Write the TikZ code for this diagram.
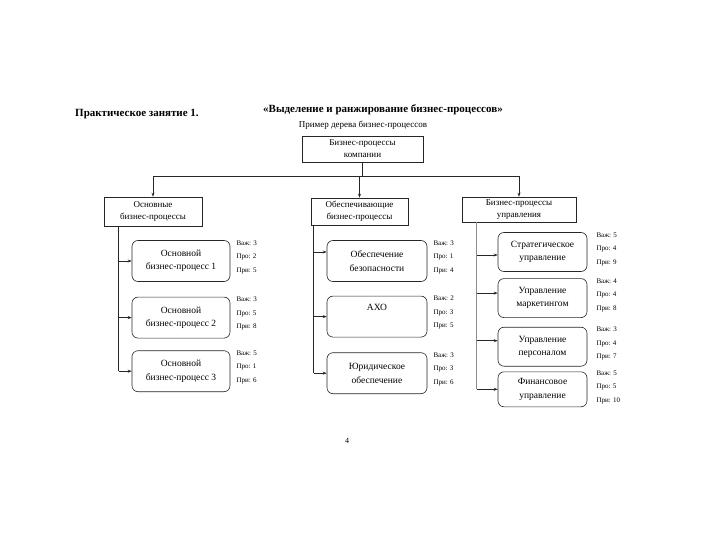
\documentclass[tikz,border=0pt]{standalone}
\usepackage{fontspec}
\setmainfont{Liberation Serif}
\usetikzlibrary{arrows.meta, positioning, calc}

\begin{document}
\begin{tikzpicture}[x=1pt, y=-1pt,
    hdr/.style={rectangle, draw=black!85, line width=0.6pt, inner sep=0pt, align=center, font=\fontsize{9}{12}\selectfont},
    proc/.style={rectangle, rounded corners=6pt, draw=black!85, line width=0.6pt, minimum height=41pt, inner sep=0pt, align=center, font=\fontsize{9.5}{13.5}\selectfont},
    score/.style={align=left, inner sep=0pt, font=\fontsize{7}{13.5}\selectfont},
    arr/.style={-{Stealth[length=4pt, width=3pt]}, line width=0.6pt, color=black!85},
    trunk/.style={line width=0.6pt, color=black!85},
  ]
  \useasboundingbox (0,0) rectangle (720,540);

  % Titles
  \node[anchor=base west, inner sep=0pt, font=\bfseries\fontsize{11}{12}\selectfont] (lesson) at (75,117) {Практическое занятие 1.};
  \node[anchor=base west, inner sep=0pt, font=\bfseries\fontsize{11}{12}\selectfont] (theme) at (263,113) {«Выделение и ранжирование бизнес-процессов»};
  \node[anchor=base, inner sep=0pt, font=\fontsize{9}{12}\selectfont] (caption) at (363,128) {Пример дерева бизнес-процессов};

  % Root
  \node[hdr, minimum width=121pt, minimum height=26pt] (root) at (362.5,149) {Бизнес-процессы\\компании};

  % Column headers
  \node[hdr, minimum width=98pt, minimum height=29pt] (basic) at (153,211.5) {Основные\\бизнес-процессы};
  \node[hdr, minimum width=97pt, minimum height=27pt] (support) at (359.5,211.5) {Обеспечивающие\\бизнес-процессы};
  \node[hdr, minimum width=114pt, minimum height=25pt] (mgmt) at (519,209.5) {Бизнес-процессы\\управления};

  \draw[trunk] (root.south) -- ++(0,14) coordinate (bus);
  \draw[trunk] (bus -| basic.north) -- (bus -| mgmt.north);
  \draw[arr] (bus -| basic.north) -- (basic.north);
  \draw[arr] (bus -| support.north) -- (support.north);
  \draw[arr] (bus -| mgmt.north) -- (mgmt.north);

  % Column 1: basic processes
  \node[proc, minimum width=98pt] (b1) at (181,261) {Основной\\бизнес-процесс 1};
  \node[proc, minimum width=98pt, below=15pt of b1] (b2) {Основной\\бизнес-процесс 2};
  \node[proc, minimum width=98pt, below=12pt of b2] (b3) {Основной\\бизнес-процесс 3};
  \node[score, right=6pt of b1.east, yshift=4pt] {Важ: 3\\Про: 2\\При: 5};
  \node[score, right=6pt of b2.east, yshift=4pt] {Важ: 3\\Про: 5\\При: 8};
  \node[score, right=6pt of b3.east, yshift=4pt] {Важ: 5\\Про: 1\\При: 6};

  \coordinate (tl) at ($(basic.south west)+(15,0)$);
  \draw[trunk] (tl) -- (tl |- b3.west);
  \draw[arr] (tl |- b1.west) -- (b1.west);
  \draw[arr] (tl |- b2.west) -- (b2.west);
  \draw[arr] (tl |- b3.west) -- (b3.west);

  % Column 2: support processes
  \node[proc, minimum width=100pt] (s1) at (377,261) {Обеспечение\\безопасности};
  \node[proc, minimum width=100pt, below=14pt of s1] (s2) {АХО\\\strut};
  \node[proc, minimum width=100pt, below=15pt of s2] (s3) {Юридическое\\обеспечение};
  \node[score, right=6pt of s1.east, yshift=4pt] {Важ: 3\\Про: 1\\При: 4};
  \node[score, right=6pt of s2.east, yshift=4pt] {Важ: 2\\Про: 3\\При: 5};
  \node[score, right=6pt of s3.east, yshift=4pt] {Важ: 3\\Про: 3\\При: 6};

  \coordinate (tm) at ($(support.south west)+(3,0)$);
  \coordinate (s1in) at ([yshift=9pt]s1.west);
  \draw[trunk] (tm) -- (tm |- s3.west);
  \draw[arr] (tm |- s1in) -- (s1in);
  \draw[arr] (tm |- s2.west) -- (s2.west);
  \draw[arr] (tm |- s3.west) -- (s3.west);

  % Column 3: management processes
  \node[proc, minimum width=89pt, minimum height=39pt] (m1) at (542.5,252) {Стратегическое\\управление};
  \node[proc, minimum width=89pt, minimum height=39pt, below=6.5pt of m1] (m2) {Управление\\маркетингом};
  \node[proc, minimum width=89pt, minimum height=39pt, below=9pt of m2] (m3) {Управление\\персоналом};
  \node[proc, minimum width=89pt, minimum height=35pt, below=5pt of m3] (m4) {Финансовое\\управление};
  \node[score, right=9pt of m1.east, yshift=3pt] {Важ: 5\\Про: 4\\При: 9};
  \node[score, right=9pt of m2.east, yshift=3pt] {Важ: 4\\Про: 4\\При: 8};
  \node[score, right=9pt of m3.east, yshift=3pt] {Важ: 3\\Про: 4\\При: 7};
  \node[score, right=9pt of m4.east, yshift=2pt] {Важ: 5\\Про: 5\\При: 10};

  \coordinate (tr) at ($(mgmt.south west)+(15,0)$);
  \coordinate (m1in) at ([yshift=-3pt]m1.west);
  \coordinate (m2in) at ([yshift=5pt]m2.west);
  \coordinate (m3in) at ([yshift=6pt]m3.west);
  \draw[trunk, color=black!45] (tr) -- (tr |- m4.west);
  \draw[arr] (tr |- m1in) -- (m1in);
  \draw[arr] (tr |- m2in) -- (m2in);
  \draw[arr] (tr |- m3in) -- (m3in);
  \draw[arr] (tr |- m4.west) -- (m4.west);

  % Page number
  \node[font=\fontsize{8}{10}\selectfont] (pagenum) at (347,441) {4};
\end{tikzpicture}
\end{document}
